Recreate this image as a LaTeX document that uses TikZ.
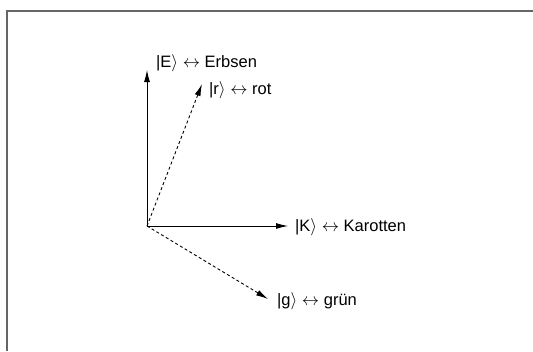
\documentclass[tikz,border=0pt]{standalone}
\usepackage{fontspec}
\setmainfont{Liberation Sans}
\usetikzlibrary{arrows.meta}
\tikzset{
  vec/.style={line width=0.9pt,-{Latex[length=12pt,width=6pt]}},
  dvec/.style={line width=0.9pt,dash pattern=on 3pt off 2.5pt,-{Latex[length=12pt,width=6pt]}},
  lbl/.style={anchor=west,inner sep=0pt,font=\fontsize{16.5}{19}\selectfont},
  frame/.style={line width=1.2pt,draw=black!60}
}
\newcommand{\ketlbl}[2]{|#1$\rangle$ $\leftrightarrow$ #2}
\begin{document}
\begin{tikzpicture}[x=1pt,y=-1pt]
\useasboundingbox (0,0) rectangle (533,351);
\draw[frame] (7,351) -- (7,11) -- (533,11);
\coordinate (O) at (147,226);
\coordinate (Etip) at (147,70);
\coordinate (rtip) at (202,84);
\coordinate (Ktip) at (288,226);
\coordinate (gtip) at (268,299);
\node[lbl] (E) at (156,63) {\ketlbl{E}{Erbsen}};
\node[lbl] (r) at (209,90) {\ketlbl{r}{rot}};
\node[lbl] (K) at (295,227) {\ketlbl{K}{Karotten}};
\node[lbl] (g) at (277,301) {\ketlbl{g}{grün}};
\draw[vec] (O) -- (Etip);
\draw[vec] (O) -- (Ktip);
\draw[dvec] (O) -- (rtip);
\draw[dvec] (O) -- (gtip);
\end{tikzpicture}
\end{document}
